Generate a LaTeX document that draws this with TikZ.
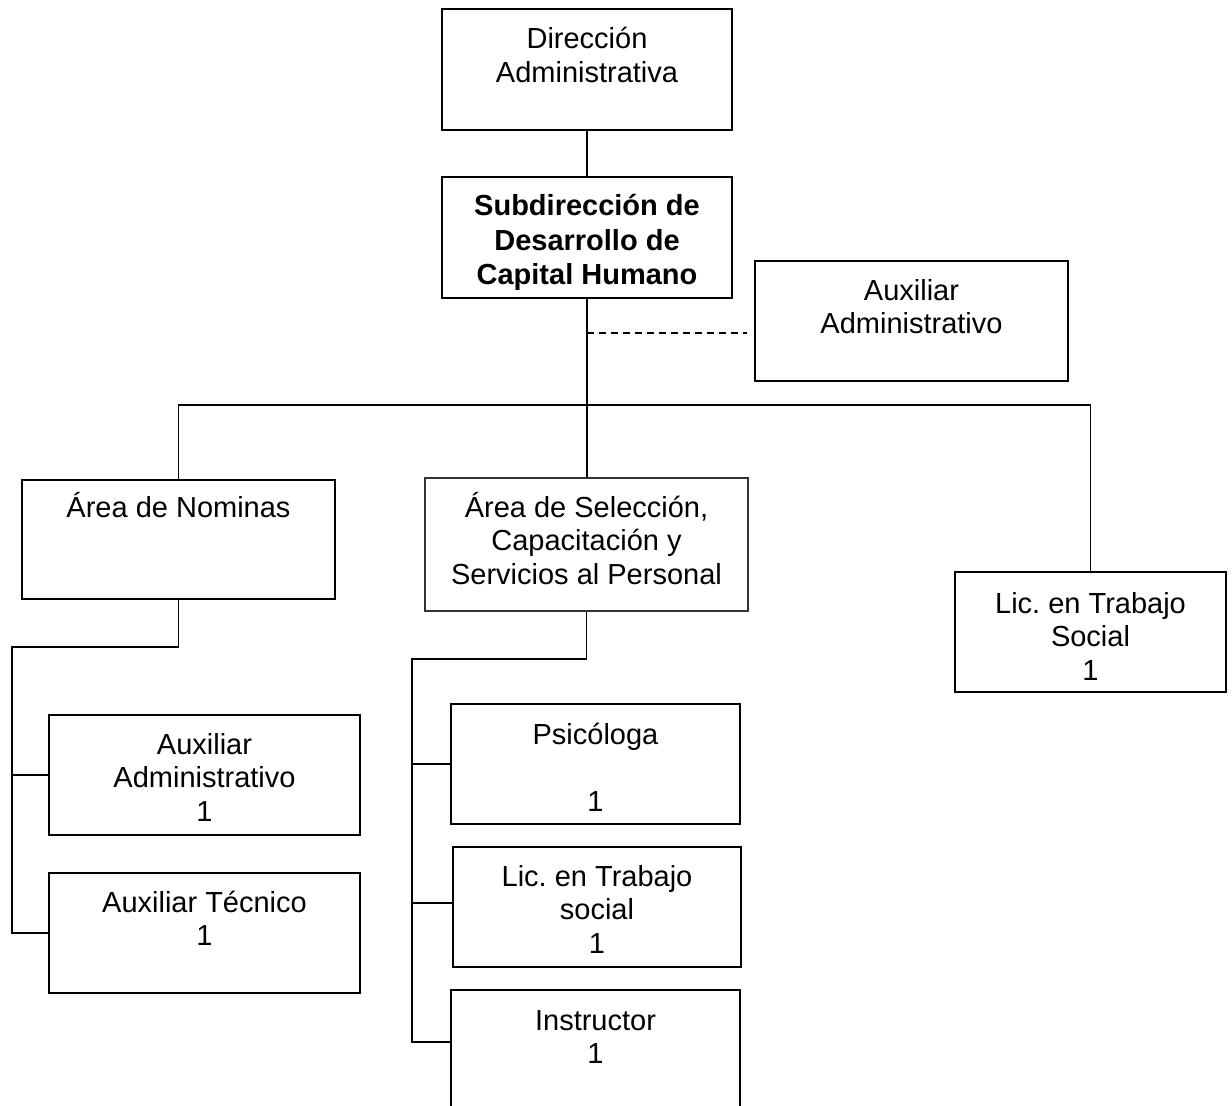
\documentclass[tikz,border=0pt]{standalone}
\usepackage{fontspec}
\setmainfont{Liberation Sans}
\frenchspacing
\begin{document}
\begin{tikzpicture}[x=1pt,y=-1pt,
  orgbox/.style={draw=black,line width=2.4pt,rectangle,inner sep=0pt},
  conn/.style={draw=black,line width=1.9pt},
  lbl/.style={anchor=north,inner sep=0pt,align=center,font=\fontsize{29pt}{33.5pt}\selectfont},
  blbl/.style={anchor=north,inner sep=0pt,align=center,font=\fontsize{29pt}{34.5pt}\selectfont\bfseries}]
\clip (0,0) rectangle (1232,1106);
\fill[white] (0,0) rectangle (1232,1106);
% boxes
\node[orgbox,minimum width=290pt,minimum height=121pt] (dir) at (587,69.5) {};
\node[orgbox,minimum width=290pt,minimum height=121pt] (sub) at (587,237.5) {};
\node[orgbox,minimum width=313pt,minimum height=120pt] (auxr) at (911.5,321) {};
\node[orgbox,minimum width=313pt,minimum height=119pt] (nom) at (178.5,539.5) {};
\node[orgbox,draw=black!80,minimum width=323pt,minimum height=133pt] (sel) at (586.5,544.5) {};
\node[orgbox,minimum width=271pt,minimum height=120pt] (licr) at (1090.5,632) {};
\node[orgbox,minimum width=311pt,minimum height=120pt] (auxa) at (204.5,775) {};
\node[orgbox,minimum width=311pt,minimum height=120pt] (auxt) at (204.5,933) {};
\node[orgbox,minimum width=289pt,minimum height=120pt] (psi) at (595.5,764) {};
\node[orgbox,minimum width=288pt,minimum height=120pt] (lics) at (597,907) {};
\node[orgbox,minimum width=289pt,minimum height=120pt] (ins) at (595.5,1050) {};
% texts (first baseline = y + 28)
\node[lbl] (dirT) at (587,20.5) {\rule{0pt}{28pt}Dirección\\Administrativa};
\node[blbl] (subT) at (587,187.5) {\rule{0pt}{28pt}Subdirección de\\Desarrollo de\\Capital Humano};
\node[lbl] (auxrT) at (911.5,272) {\rule{0pt}{28pt}Auxiliar\\Administrativo};
\node[lbl] (nomT) at (178.5,489) {\rule{0pt}{28pt}Área de Nominas};
\node[lbl] (selT) at (586.5,489) {\rule{0pt}{28pt}Área de Selección,\\Capacitación y\\Servicios al Personal};
\node[lbl] (licrT) at (1090.5,585) {\rule{0pt}{28pt}Lic. en Trabajo\\Social\\1};
\node[lbl] (auxaT) at (204.5,726) {\rule{0pt}{28pt}Auxiliar\\Administrativo\\1};
\node[lbl] (auxtT) at (204.5,884) {\rule{0pt}{28pt}Auxiliar Técnico\\1};
\node[lbl] (psiT) at (595.5,716) {\rule{0pt}{28pt}Psicóloga\\\mbox{}\\1};
\node[lbl] (licsT) at (597,858) {\rule{0pt}{28pt}Lic. en Trabajo\\social\\1};
\node[lbl] (insT) at (595.5,1002) {\rule{0pt}{28pt}Instructor\\1};
% connectors
\coordinate (bus) at (587,405);
\coordinate (dash) at (587,333);
\coordinate (nl) at (12,647);
\coordinate (sl) at (412,659);
\draw[conn] (sub.north) -- (dir.south);
\draw[conn] (sub.south) -- (sub.south |- sel.north);
\draw[conn,line width=1.6pt,dash pattern=on 7pt off 5pt] (dash) -- ([xshift=-7pt]auxr.west |- dash);
\draw[conn] (nom.north) |- (bus) -| (licr.north);
\draw[conn] (nom.south) |- (nl) |- (auxt.west);
\draw[conn] (nl |- auxa.west) -- (auxa.west);
\draw[conn] (sel.south) |- (sl) |- ([yshift=8pt]ins.west);
\draw[conn] (sl |- psi.west) -- (psi.west);
\draw[conn] ([yshift=4pt]lics.west -| sl) -- ([yshift=4pt]lics.west);
\end{tikzpicture}
\end{document}
